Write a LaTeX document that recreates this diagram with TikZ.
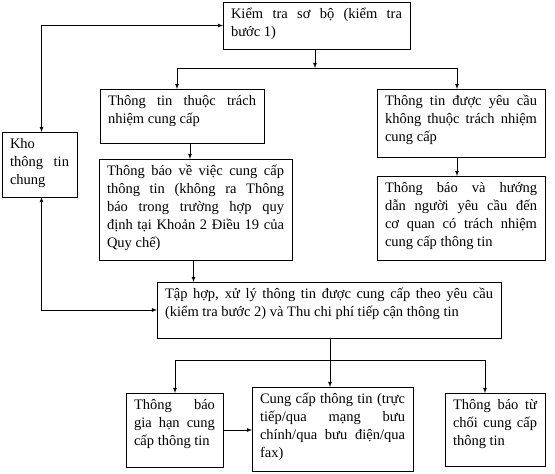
\documentclass[tikz,border=0pt]{standalone}
\usepackage{fontspec}
\setmainfont{Liberation Serif}
\usetikzlibrary{arrows}

\begin{document}
\begin{tikzpicture}[x=1pt,y=-1pt,>=latex,line width=0.8pt]
\tikzstyle{stage}=[rectangle,draw=black,anchor=north west,
inner xsep=8pt,inner ysep=4pt,outer sep=0pt,
text height=12.6pt,align=justify,
execute at begin node={\hyphenpenalty=10000\tolerance=10000},
font=\fontsize{14.5}{18}\selectfont]
\useasboundingbox (0,0) rectangle (555,474);

\node[stage,text width=171pt,text depth=26.4pt] at (223,2) (check1) {Kiểm tra sơ bộ (kiểm tra\linebreak bước 1)};
\node[stage,text width=148pt,text depth=33.4pt] at (100,89) (resp) {Thông tin thuộc trách\linebreak nhiệm cung cấp};
\node[stage,text width=152pt,text depth=47.4pt] at (377,89) (notresp) {Thông tin được yêu cầu\linebreak không thuộc trách nhiệm\linebreak cung cấp};
\node[stage,text width=177pt,text depth=80.4pt] at (99,159) (notice) {Thông báo về việc cung cấp\linebreak thông tin (không ra Thông\linebreak báo trong trường hợp quy\linebreak định tại Khoản 2 Điều 19 của\linebreak Quy chế)};
\node[stage,text width=152pt,text depth=63.4pt] at (377,176) (guide) {Thông báo và hướng\linebreak dẫn người yêu cầu đến\linebreak cơ quan có trách nhiệm\linebreak cung cấp thông tin};
\node[stage,text width=59pt,text depth=44.4pt] at (2,132) (store) {Kho\linebreak thông tin\linebreak chung};
\node[stage,text width=328pt,text depth=35.4pt] at (157,282) (collect) {Tập hợp, xử lý thông tin được cung cấp theo yêu cầu\linebreak (kiểm tra bước 2) và Thu chi phí tiếp cận thông tin};
\node[stage,text width=81pt,text depth=53.4pt] at (126,393) (extend) {Thông báo\linebreak gia hạn cung\linebreak cấp thông tin};
\node[stage,text width=145pt,text depth=63.4pt] at (252,387) (provide) {Cung cấp thông tin (trực\linebreak tiếp/qua mạng bưu\linebreak chính/qua bưu điện/qua\linebreak fax)};
\node[stage,text width=84pt,text depth=52.4pt] at (445,393) (refuse) {Thông báo từ\linebreak chối cung cấp\linebreak thông tin};

\coordinate (split1) at (315,68);
\coordinate (split1l) at (177,68);
\coordinate (split1r) at (457,68);
\coordinate (split2l) at (175,360);
\coordinate (split2r) at (485,360);

\draw[->] (check1.south -| split1) -- (split1);
\draw (split1l) -- (split1r);
\draw[->] (split1l) -- (split1l |- resp.north);
\draw[->] (split1r) -- (split1r |- notresp.north);
\draw[->] ([xshift=8pt]resp.south) -- ([xshift=8pt]resp.south |- notice.north);
\draw[->] (split1r |- notresp.south) -- (split1r |- guide.north);
\draw[->] ([xshift=-2pt]notice.south) -- ([xshift=-2pt]notice.south |- collect.north);
\draw[<->] ([xshift=2pt]store.north) |- (check1.west);
\draw[<->] ([xshift=2pt]store.south) |- (collect.west);
\draw[->] ([xshift=1pt]collect.south) -- ([xshift=1pt]collect.south |- provide.north);
\draw (split2l) -- (split2r);
\draw[->] (split2l) -- (split2l |- extend.north);
\draw[->] (split2r) -- (split2r |- refuse.north);
\path[->] (extend.east) edge (extend.east -| provide.west);

\end{tikzpicture}
\end{document}
